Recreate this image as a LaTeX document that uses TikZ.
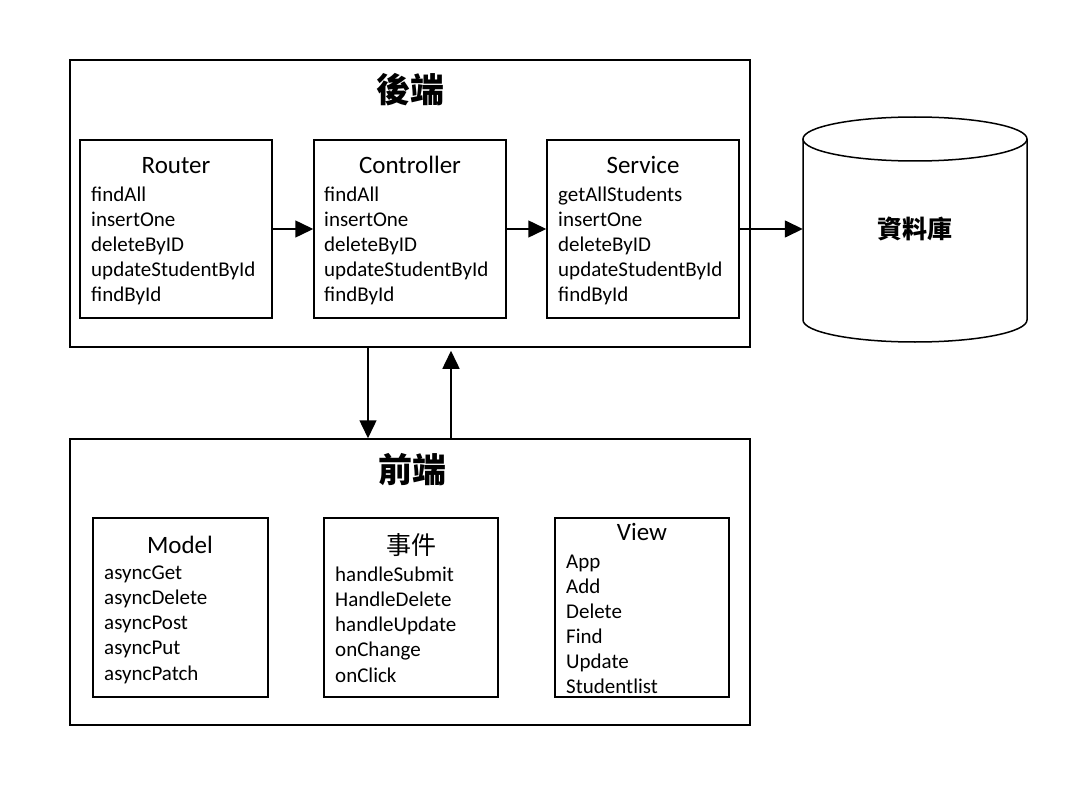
\documentclass[tikz,border=0pt]{standalone}
\usepackage{fontspec}
\setmainfont{Carlito}
\newfontfamily\cjk{Noto Sans CJK TC}
\usetikzlibrary{arrows.meta}
\tikzset{
 box/.style={draw, line width=1.5pt, rectangle, inner sep=0pt},
 arr/.style={line width=1.5pt, -{Triangle[length=18pt,width=17pt]}},
 item/.style={anchor=base west, inner sep=0pt, font=\fontsize{21}{25}\selectfont},
 boxtitle/.style={anchor=base, inner sep=0pt, font=\fontsize{25}{30}\selectfont},
 bigtitle/.style={inner sep=0pt, font=\fontsize{34}{40}\selectfont\cjk\bfseries},
}
\newcommand{\itemlist}[5]{\foreach \t [count=\i] in {#5} {\node[item] (#1\i) at (#2,{#3+#4*(\i-1)}) {\t};}}
\begin{document}
\begin{tikzpicture}[x=1pt,y=-1pt]
\fill[white] (0,0) rectangle (1085,789);
\useasboundingbox (0,0) rectangle (1085,789);

% backend
\node[box, minimum width=680pt, minimum height=287pt] (backend) at (410,203.5) {};
\node[bigtitle] (bt) at (410,90) {後端};
\node[box, minimum width=192pt, minimum height=178pt] (router) at (176,229) {};
\node[box, minimum width=192pt, minimum height=178pt] (controller) at (410,229) {};
\node[box, minimum width=192pt, minimum height=178pt] (service) at (643,229) {};
\node[boxtitle] (routert) at (176,174) {Router};
\node[boxtitle] (controllert) at (410,174) {Controller};
\node[boxtitle] (servicet) at (643,174) {Service};
\itemlist{r}{91}{201}{25.2}{findAll,insertOne,deleteByID,updateStudentById,findById}
\itemlist{c}{324}{201}{25.2}{findAll,insertOne,deleteByID,updateStudentById,findById}
\itemlist{s}{558}{201}{25.2}{getAllStudents,insertOne,deleteByID,updateStudentById,findById}

% database
\draw[line width=1.5pt] (915,139) ellipse [x radius=112, y radius=22];
\draw[line width=1.5pt] (803,139) -- (803,320) arc[start angle=180, end angle=0, x radius=112, y radius=22] -- (1027,139);
\node[minimum width=224pt, minimum height=180pt, inner sep=0pt, font=\fontsize{25}{30}\selectfont\cjk\bfseries] (db) at (915,229) {資料庫};

\draw[arr] (router.east) -- (controller.west);
\draw[arr] (controller.east) -- (service.west);
\draw[arr] (service.east) -- (db.west);

% frontend
\node[box, minimum width=680pt, minimum height=286pt] (frontend) at (410,582) {};
\node[bigtitle] (ft) at (412,470) {前端};
\node[box, minimum width=175pt, minimum height=179pt] (model) at (180.5,607.5) {};
\node[box, minimum width=174pt, minimum height=179pt] (event) at (411,607.5) {};
\node[box, minimum width=174pt, minimum height=179pt] (view) at (642,607.5) {};
\node[boxtitle] (modelt) at (180,553) {Model};
\node[inner sep=0pt, font=\fontsize{25}{30}\selectfont\cjk] (eventt) at (411,545) {事件};
\node[boxtitle] (viewt) at (642,540) {View};
\itemlist{m}{104}{579}{25.3}{asyncGet,asyncDelete,asyncPost,asyncPut,asyncPatch}
\itemlist{e}{335}{581}{25.3}{handleSubmit,HandleDelete,handleUpdate,onChange,onClick}
\itemlist{v}{566}{568}{25.1}{App,Add,Delete,Find,Update,Studentlist}

\draw[arr] ([xshift=-42pt]backend.south) -- ([xshift=-42pt]frontend.north);
\draw[arr, shorten >=3pt] ([xshift=41pt]frontend.north) -- ([xshift=41pt]backend.south);
\end{tikzpicture}
\end{document}
